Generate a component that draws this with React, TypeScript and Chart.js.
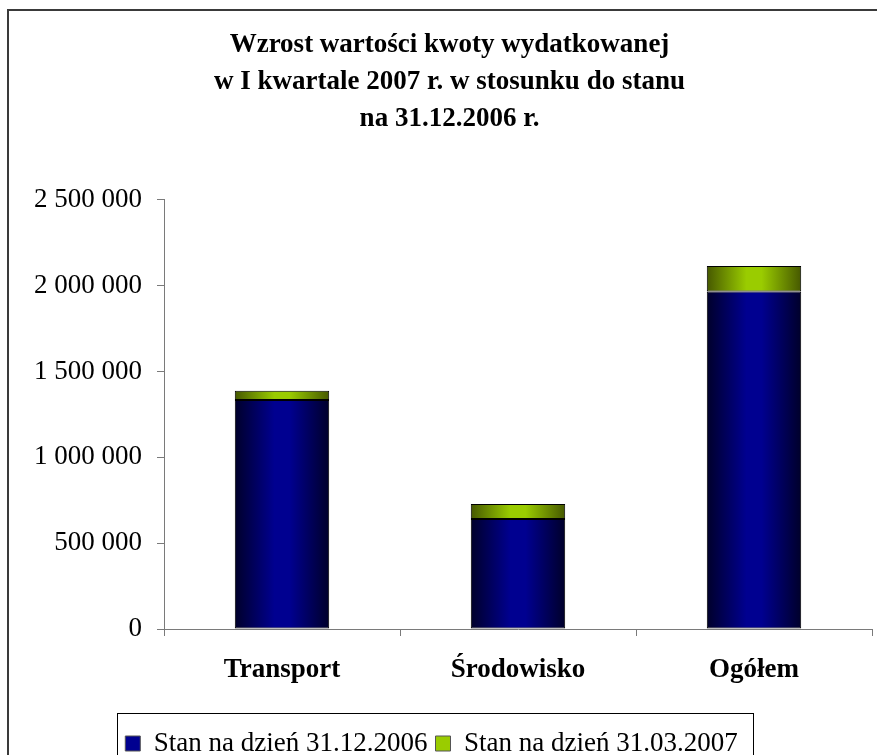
import React, { useEffect, useRef } from 'react';
import { Chart, registerables } from 'chart.js';

Chart.register(...registerables);

// ---- data ----
const categories = ['Transport', 'Środowisko', 'Ogółem'];
const seriesNames = ['Stan na dzień 31.12.2006', 'Stan na dzień 31.03.2007'];
const stan2006 = [1334000, 641000, 1966000];
const przyrost2007 = [53000, 87000, 149000];
const titleLines = [
  'Wzrost wartości kwoty wydatkowanej',
  'w I kwartale 2007 r. w stosunku do stanu',
  'na 31.12.2006 r.',
];
const yTickValues = [0, 500000, 1000000, 1500000, 2000000, 2500000];
const yTickLabels = ['0', '500 000', '1 000 000', '1 500 000', '2 000 000', '2 500 000'];

// ---- styles ----
const SERIF = "'Liberation Serif', 'Times New Roman', serif";
const AXIS = '#7a7a7a';
const BAR_PCT = 0.4;
const TITLE_SHIFT = 13.5;
const LEGEND_SHIFT = -4.5;
const BLUE = ['#00002a', '#000090'];
const GREEN = ['#465800', '#9acc00'];

function barGradient(colors: string[]) {
  const [edge, mid] = colors;
  return (c: any) => {
    const chart = c.chart;
    const xs = chart.scales && chart.scales.x;
    if (c.type !== 'data' || !xs || !chart.chartArea || !isFinite(xs.width)) return mid;
    const cx = xs.getPixelForValue(c.dataIndex);
    const half = ((xs.width / categories.length) * BAR_PCT) / 2;
    if (!isFinite(cx) || !isFinite(half) || half <= 0) return mid;
    const g = chart.ctx.createLinearGradient(cx - half, 0, cx + half, 0);
    g.addColorStop(0, edge);
    g.addColorStop(0.42, mid);
    g.addColorStop(0.58, mid);
    g.addColorStop(1, edge);
    return g;
  };
}

const decorPlugin = {
  id: 'decor',
  afterLayout(chart: any) {
    const t = chart.titleBlock;
    if (t) {
      t.left += TITLE_SHIFT;
      t.right += TITLE_SHIFT;
    }
    const l = chart.legend;
    if (l) {
      l.left += LEGEND_SHIFT;
      l.right += LEGEND_SHIFT;
    }
  },
  afterDraw(chart: any) {
    const { ctx } = chart;
    const legend = chart.legend;
    ctx.save();
    // outer frame (left & top visible)
    ctx.strokeStyle = '#3a3a3a';
    ctx.lineWidth = 2;
    ctx.strokeRect(8, 10, 3000, 3000);
    // legend frame
    if (legend && legend.legendHitBoxes && legend.legendHitBoxes.length) {
      const hb = legend.legendHitBoxes;
      const first = hb[0];
      const last = hb[hb.length - 1];
      const left = Math.round(first.left - 8) + 0.5;
      const right = Math.round(last.left + last.width + 15) + 0.5;
      const top = Math.round(first.top - 17) + 0.5;
      ctx.strokeStyle = '#000';
      ctx.lineWidth = 1;
      ctx.strokeRect(left, top, right - left, 200);
    }
    ctx.restore();
  },
};

export default function App() {
  const ref = useRef<HTMLCanvasElement | null>(null);

  useEffect(() => {
    if (!ref.current) return;
    const chart = new Chart(ref.current, {
      type: 'bar',
      data: {
        labels: categories,
        datasets: [
          {
            label: seriesNames[0],
            data: stan2006,
            backgroundColor: barGradient(BLUE),
            borderColor: '#000',
            borderWidth: 1,
            borderSkipped: false,
            barPercentage: BAR_PCT,
            categoryPercentage: 1,
          },
          {
            label: seriesNames[1],
            data: przyrost2007,
            backgroundColor: barGradient(GREEN),
            borderColor: '#000',
            borderWidth: 1,
            borderSkipped: false,
            barPercentage: BAR_PCT,
            categoryPercentage: 1,
          },
        ],
      },
      options: {
        responsive: false,
        devicePixelRatio: 1,
        animation: false,
        layout: { padding: { left: 0, right: 5, top: 0, bottom: 0 } },
        plugins: {
          tooltip: { enabled: false },
          title: {
            display: true,
            text: titleLines,
            color: '#000',
            font: { family: SERIF, size: 27, weight: 'bold', lineHeight: 1.38 },
            padding: { top: 26, bottom: 62 },
          },
          legend: {
            display: true,
            position: 'bottom',
            align: 'center',
            labels: {
              boxWidth: 15,
              boxHeight: 15,
              padding: 8,
              color: '#000',
              font: { family: SERIF, size: 27 },
              generateLabels: (ch: any) => {
                const items = Chart.defaults.plugins.legend.labels.generateLabels(ch);
                const fills = [BLUE[1], GREEN[1]];
                items.forEach((it: any, i: number) => {
                  it.fillStyle = fills[i];
                  it.strokeStyle = '#555';
                  it.lineWidth = 1;
                });
                return items;
              },
            },
          },
        },
        scales: {
          x: {
            stacked: true,
            grid: {
              display: true,
              drawOnChartArea: false,
              drawTicks: true,
              tickLength: 7,
              offset: true,
              color: AXIS,
            },
            border: { display: true, color: AXIS, width: 1 },
            ticks: {
              color: '#000',
              font: { family: SERIF, size: 27, weight: 'bold' },
              padding: 18,
              maxRotation: 0,
              autoSkip: false,
            },
            afterFit: (s: any) => {
              s.height = 93;
            },
          },
          y: {
            stacked: true,
            min: 0,
            max: 2500000,
            grid: { drawOnChartArea: false, drawTicks: true, tickLength: 7, color: AXIS },
            border: { display: true, color: AXIS, width: 1 },
            ticks: {
              stepSize: 500000,
              color: '#000',
              font: { family: SERIF, size: 27 },
              padding: 15,
              callback: (v: any) => {
                const i = yTickValues.indexOf(Number(v));
                return i >= 0 ? yTickLabels[i] : '';
              },
            },
            afterFit: (s: any) => {
              s.width = 164;
            },
          },
        },
      },
      plugins: [decorPlugin],
    });
    return () => chart.destroy();
  }, []);

  return (
    <div
      style={{
        position: 'absolute',
        left: 0,
        top: 0,
        width: 877,
        height: 755,
        overflow: 'hidden',
        background: '#fff',
      }}
    >
      <canvas ref={ref} width={877} height={767} style={{ display: 'block' }} />
    </div>
  );
}
